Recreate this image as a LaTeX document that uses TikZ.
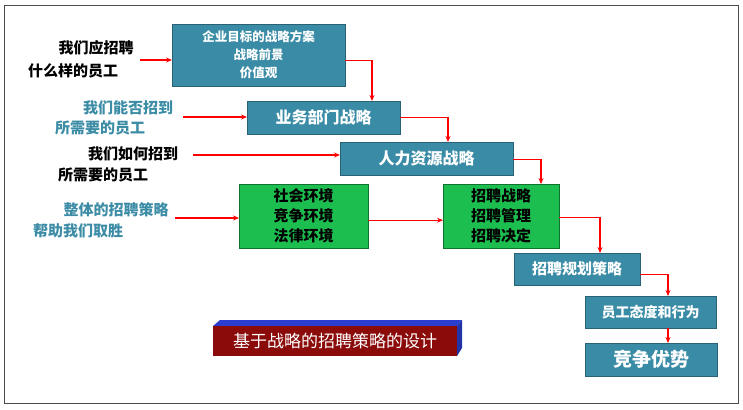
\documentclass[tikz,border=0pt]{standalone}
\usepackage{fontspec}
\setmainfont{Noto Sans CJK SC}
\usetikzlibrary{arrows.meta}
\definecolor{teal1}{HTML}{3A8CA6}
\definecolor{green1}{HTML}{1DBE50}
\definecolor{bluet}{HTML}{3C8CA6}
\definecolor{darkred}{HTML}{8B0A0A}
\definecolor{blue3d}{HTML}{2A3FD0}
\tikzset{
 tbox/.style={draw=teal1!70!black,fill=teal1,text=white,font=\bfseries,align=center,inner sep=0pt,anchor=north west},
 gbox/.style={draw=green1!60!black,fill=green1,text=black,font=\bfseries,align=center,inner sep=0pt,anchor=north west},
 lab/.style={font=\bfseries\fontsize{15}{18}\selectfont,align=left},
 arr/.style={red,line width=1.3pt,-{Stealth[length=6pt,width=5pt]}}
}
\begin{document}
\begin{tikzpicture}[x=1pt,y=-1pt]
\useasboundingbox (0,0) rectangle (743,409);
\draw[black!70,line width=0.8pt] (4,5) rectangle (738,403);
% boxes
\node[tbox,minimum width=173pt,minimum height=62pt,font=\bfseries\fontsize{12.5}{18}\selectfont] (b1) at (172,24) {企业目标的战略方案\\战略前景\\价值观};
\node[tbox,minimum width=153pt,minimum height=33pt,font=\bfseries\fontsize{16}{17}\selectfont] (b2) at (247,101) {业务部门战略};
\node[tbox,minimum width=173pt,minimum height=33pt,font=\bfseries\fontsize{16}{17}\selectfont] (b3) at (340,142) {人力资源战略};
\node[gbox,minimum width=129pt,minimum height=64pt,font=\bfseries\fontsize{15}{20}\selectfont] (g1) at (239,184) {社会环境\\竞争环境\\法律环境};
\node[gbox,minimum width=116pt,minimum height=64pt,font=\bfseries\fontsize{15}{20}\selectfont] (g2) at (443,184) {招聘战略\\招聘管理\\招聘决定};
\node[tbox,minimum width=126pt,minimum height=32pt,font=\bfseries\fontsize{15}{17}\selectfont] (b4) at (514,253) {招聘规划策略};
\node[tbox,minimum width=131pt,minimum height=32pt,font=\bfseries\fontsize{14}{17}\selectfont] (b5) at (585,296) {员工态度和行为};
\node[tbox,minimum width=132pt,minimum height=33pt,font=\bfseries\fontsize{19}{20}\selectfont] (b6) at (585,343) {竞争优势};
% banner
\fill[blue3d] (213,326) -- (220,320) -- (462,320) -- (457,326) -- cycle;
\fill[blue3d!80!black] (457,326) -- (462,320) -- (462,348) -- (457,356) -- cycle;
\node[fill=darkred,text=white,minimum width=244pt,minimum height=30pt,inner sep=0pt,anchor=north west,font=\fontsize{17}{18}\selectfont] (ban) at (213,326) {基于战略的招聘策略的设计};
% left labels
\node[lab] (t1) at (96,48) {我们应招聘};
\node[lab] (t1b) at (73,71) {什么样的员工};
\node[lab,text=bluet] (t2) at (128,108) {我们能否招到};
\node[lab,text=bluet] (t2b) at (100,128) {所需要的员工};
\node[lab] (t3) at (133,154) {我们如何招到};
\node[lab] (t3b) at (103,175) {所需要的员工};
\node[lab,text=bluet] (t4) at (116,210) {整体的招聘策略};
\node[lab,text=bluet] (t4b) at (78,231) {帮助我们取胜};
\coordinate (s1) at (140,60);
\coordinate (s2) at (183,117);
\coordinate (s3) at (193,155);
\coordinate (s4) at (175,218);
\draw[arr] (s1) -- (b1.west |- s1);
\draw[arr] (s2) -- (b2.west |- s2);
\draw[arr] (s3) -- (b3.west |- s3);
\draw[arr] (s4) -- (g1.west |- s4);
% flow
\draw[arr] ([yshift=-5pt]b1.east) -| (372,101);
\draw[arr] (b2.east) -| (448,142);
\draw[arr] ([yshift=-1pt]b3.east) -| (541,184);
\draw[arr] ([yshift=-4pt]g1.east) -- ([yshift=-4pt]g2.west);
\draw[arr] ([yshift=-1pt]g2.east) -| (600,253);
\draw[arr] ([yshift=-5pt]b4.east) -| (668,296);
\draw[arr] (b5.south -| 668,0) -- (b6.north -| 668,0);
\end{tikzpicture}
\end{document}
